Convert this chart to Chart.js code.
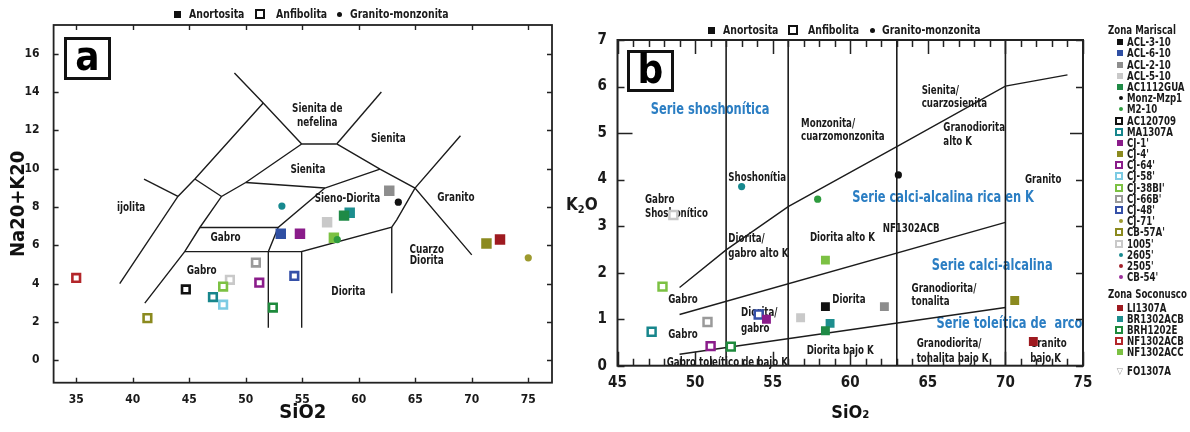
<!DOCTYPE html>
<html>
<head>
<meta charset="utf-8">
<script src="https://cdn.jsdelivr.net/npm/chart.js@4.4.1/dist/chart.umd.min.js"></script>
<style>
  html, body { margin: 0; padding: 0; background: #fff; }
  body { position: relative; width: 1190px; height: 432px; overflow: hidden;
         font-family: "Liberation Sans Narrow", "DejaVu Sans Condensed", sans-serif;
         font-weight: bold; color: #1a1a1a; }
  canvas { position: absolute; top: 0; }
  #chartA { left: 0; }
  #chartB { left: 555px; }
  .keyTop { position: absolute; width: 320px; height: 16px; font-size: 13px; line-height: 16px; white-space: nowrap; }
  .keyTop > span { position: absolute; top: 0; }
  .nar { display: inline-block; transform: scaleX(0.8); transform-origin: 0 50%; }
  .fsq { display: inline-block; width: 7px; height: 7px; background: #111; margin-top: 4.5px; }
  .osq { display: inline-block; box-sizing: border-box; width: 10px; height: 10px; border: 2.5px solid #111; margin-top: 3px; }
  .dot { display: inline-block; width: 5px; height: 5px; border-radius: 50%; background: #111; margin-top: 5.5px; }
  .tag { position: absolute; box-sizing: border-box; border: 3px solid #111; background: #fff;
         display: flex; align-items: center; justify-content: center; color: #000; }
  #k2o { position: absolute; left: 566px; top: 194px; font-size: 17px; line-height: 20px; }
  #k2o sub { font-size: 11px; vertical-align: -3px; line-height: 0; }
  #side { position: absolute; left: 1108px; top: 25px; font-size: 12px; }
  #side .head { height: 11.6px; line-height: 11.6px; white-space: nowrap; font-size: 12px; }
  #side .row { display: flex; align-items: center; white-space: nowrap; }
  #side .sym { width: 19px; display: flex; justify-content: flex-end; padding-right: 4px; box-sizing: border-box; }
</style>
</head>
<body>
<canvas id="chartA" width="580" height="432"></canvas>
<canvas id="chartB" width="635" height="432"></canvas>

<div class="keyTop" style="left:174px;top:6px;">
  <span class="fsq" style="left:0"></span><span style="left:15px"><span class="nar">Anortosita</span></span>
  <span class="osq" style="left:81px"></span><span style="left:102px"><span class="nar">Anfibolita</span></span>
  <span class="dot" style="left:163px"></span><span style="left:176px"><span class="nar">Granito-monzonita</span></span>
</div>
<div class="keyTop" style="left:708px;top:22px;">
  <span class="fsq" style="left:0"></span><span style="left:15px"><span class="nar">Anortosita</span></span>
  <span class="osq" style="left:80px"></span><span style="left:100px"><span class="nar">Anfibolita</span></span>
  <span class="dot" style="left:162px"></span><span style="left:174px"><span class="nar">Granito-monzonita</span></span>
</div>

<div class="tag" style="left:64px;top:37px;width:47px;height:43px;font-size:40px;line-height:40px;"><span style="margin-top:-6px">a</span></div>
<div class="tag" style="left:627px;top:50px;width:47px;height:42px;font-size:40px;line-height:40px;"><span style="margin-top:-4px">b</span></div>

<div id="k2o">K<sub>2</sub>O</div>
<div id="side"></div>

<script>
// ---------------- samples (legend order) ----------------
const sampleNames = ['ACL-3-10', 'ACL-6-10', 'ACL-2-10', 'ACL-5-10', 'AC1112GUA', 'Monz-Mzp1', 'M2-10',
  'AC120709', 'MA1307A', "CJ-1'", "CJ-4'", "CJ-64'", "CJ-58'", "CJ-38BI'", "CJ-66B'", "CJ-48'", "CJ-71'",
  "CB-57A'", "1005'", "2605'", "2505'", "CB-54'",
  'LI1307A', 'BR1302ACB', 'BRH1202E', 'NF1302ACB', 'NF1302ACC', 'FO1307A'];
const mariscalCount = 22;   // the rest belong to Zona Soconusco

// Panel a: SiO2 vs Na2O+K2O
const tasSiO2 = [null, 53.1, 62.7, 57.2, 58.7, 63.5, 58.1, 44.7, 47.1, 54.8, 71.3, 51.2, 48.0, 48.0, 50.9, 54.3, 75.0,
  41.3, 48.6, 53.2, null, null, 72.5, 59.2, 52.4, 35.0, 57.8, null];
const tasAlk = [null, 6.6, 8.85, 7.2, 7.55, 8.25, 6.3, 3.7, 3.3, 6.6, 6.1, 4.05, 2.9, 3.85, 5.1, 4.4, 5.35,
  2.2, 4.2, 8.05, null, null, 6.3, 7.7, 2.75, 4.3, 6.4, null];

// Panel b: SiO2 vs K2O
const kSiO2 = [58.4, null, 62.2, 56.8, 58.4, 63.1, 57.9, null, 47.2, 54.6, 70.6, 51.0, null, 47.9, 50.8, 54.1, null,
  null, 48.6, 53.0, null, null, 71.8, 58.7, 52.3, null, 58.4, null];
const kK2O = [1.27, null, 1.27, 1.03, 0.75, 4.1, 3.58, null, 0.73, 1.0, 1.4, 0.42, null, 1.7, 0.94, 1.1, null,
  null, 3.24, 3.85, null, null, 0.52, 0.91, 0.41, null, 2.27, null];

// tick labels
const tasXTicks = [35, 40, 45, 50, 55, 60, 65, 70, 75];
const tasYTicks = [0, 2, 4, 6, 8, 10, 12, 14, 16];
const kXTicks = [45, 50, 55, 60, 65, 70, 75];
const kYTicks = [0, 1, 2, 3, 4, 5, 6, 7];

// classification boundaries, panel a (SiO2, Na2O+K2O)
const tasFoidLine = [[49.0, 15.0], [51.55, 13.43], [54.95, 11.29]];
const tasIjoliteLine = [[51.55, 13.43], [45.5, 9.46], [44.0, 8.55], [38.85, 4.0]];
const tasIjoliteTop = [[41.0, 9.46], [44.0, 8.55]];
const tasSyeniteLink = [[45.5, 9.46], [47.86, 8.55]];
const tasGabbroLine = [[54.95, 11.29], [50.0, 9.28], [47.86, 8.55], [45.94, 6.93], [44.6, 5.67], [41.07, 2.98]];
const tasFoidTop = [[54.95, 11.29], [58.05, 11.29]];
const tasSyeniteLeft = [[58.05, 11.29], [62.0, 14.0]];
const tasSyeniteRight = [[58.05, 11.29], [61.88, 9.98], [64.98, 8.99], [70.0, 5.5]];
const tasSyenodiorite = [[50.0, 9.28], [57.0, 8.99], [61.88, 9.98]];
const tasGabbroRight = [[57.0, 8.99], [52.87, 6.93], [52.0, 5.67], [52.0, 1.7]];
const tasGabbroTop = [[45.94, 6.93], [52.87, 6.93]];
const tasGabbroBase = [[44.6, 5.67], [54.95, 5.67]];
const tasDioriteLine = [[54.95, 1.7], [54.95, 5.67], [62.92, 6.95], [63.36, 7.33], [64.98, 8.99], [69.0, 11.72]];
const tasQuartzDiorite = [[62.92, 6.95], [62.92, 3.5]];

// classification boundaries, panel b (SiO2, K2O)
const kVerticals = [52, 56, 63, 70];
const kShoshoniteLine = [[49, 1.68], [52, 2.49], [56, 3.42], [63, 4.71], [70, 6.01], [74, 6.25]];
const kHighKLine = [[49, 1.1], [70, 3.08]];
const kLowKLine = [[49, 0.245], [70, 1.25]];

// field names
const tasLabels = [['Sienita de', 56.33, 13.13], ['nefelina', 56.33, 12.38], ['Sienita', 62.62, 11.56],
  ['Sienita', 55.5, 9.94], ['Sieno-Diorita', 59.0, 8.41], ['Granito', 68.6, 8.5], ['ijolita', 39.86, 7.94],
  ['Gabro', 48.22, 6.37], ['Gabro', 46.1, 4.68], ['Cuarzo', 66.02, 5.76], ['Diorita', 66.02, 5.19],
  ['Diorita', 59.08, 3.58]];
const kLabels = [['Monzonita/', 56.83, 5.21], ['cuarzomonzonita', 56.83, 4.91], ['Sienita/', 64.6, 5.92],
  ['cuarzosienita', 64.6, 5.62], ['Granodiorita', 66.0, 5.11], ['alto K', 66.0, 4.81], ['Granito', 71.26, 3.99],
  ['Shoshonítia', 52.14, 4.05], ['Gabro', 46.77, 3.56], ['Shoshonítico', 46.77, 3.27], ['Diorita/', 52.14, 2.72],
  ['gabro alto K', 52.14, 2.40], ['Diorita alto K', 57.4, 2.74], ['NF1302ACB', 62.09, 2.95],
  ['Granodiorita/', 63.95, 1.66], ['tonalita', 63.95, 1.38], ['Gabro', 48.27, 1.41], ['Diorita', 58.84, 1.41],
  ['Diorita/', 52.96, 1.13], ['gabro', 52.96, 0.80], ['Gabro', 48.27, 0.66], ['Granodiorita/', 64.28, 0.47],
  ['tonalita bajo K', 64.28, 0.16], ['Diorita bajo K', 57.19, 0.32], ['Gabro toleítico de bajo K', 48.17, 0.06],
  ['Granito', 71.6, 0.48], ['bajo K', 71.6, 0.15]];
const kSeriesLabels = [['Serie shoshonítica', 47.14, 5.5], ['Serie calci-alcalina rica en K', 60.13, 3.6],
  ['Serie calci-alcalina', 65.25, 2.14], ['Serie toleítica de  arco', 65.56, 0.9]];

// ---------------- styling ----------------
const markerOf = ['sq', 'sq', 'sq', 'sq', 'sq', 'dot', 'dot', 'open', 'open', 'sq', 'sq', 'open', 'open', 'open',
  'open', 'open', 'dot', 'open', 'open', 'dot', 'dot', 'dot', 'sq', 'sq', 'open', 'open', 'sq', 'tri'];
const colorOf = ['#111111', '#2f4fa3', '#8d8d8d', '#c9c9c9', '#1f8a46', '#111111', '#2e9b3e', '#111111',
  '#17868c', '#8a1c8a', '#8b8a1f', '#8a1c8a', '#7ccbe3', '#7cc143', '#9a9a9a', '#3550a8', '#9d9a2e',
  '#8b8a1f', '#c9c9c9', '#17898f', '#a3202a', '#9b2f9b', '#9e1a20', '#1d8e8e', '#1e8a3c', '#b3262a',
  '#7cc143', '#9a9a9a'];
const FONT = '"Liberation Sans Narrow", "DejaVu Sans Condensed", sans-serif';
const INK = '#1a1a1a';
const BLUE = '#2b7ec3';

function sampleDatasets(xs, ys, size) {
  const out = [];
  sampleNames.forEach((name, i) => {
    if (xs[i] == null || ys[i] == null) return;
    const c = colorOf[i], m = markerOf[i];
    const ds = { label: name, data: [{ x: xs[i], y: ys[i] }], order: 1, showLine: false };
    if (m === 'sq') Object.assign(ds, { pointStyle: 'rect', pointRadius: size.sq, backgroundColor: c, borderColor: c, borderWidth: 0 });
    else if (m === 'open') Object.assign(ds, { pointStyle: 'rect', pointRadius: size.open, backgroundColor: '#fff', borderColor: c, borderWidth: size.openW });
    else if (m === 'dot') Object.assign(ds, { pointStyle: 'circle', pointRadius: size.dot, backgroundColor: c, borderColor: c, borderWidth: 0 });
    else Object.assign(ds, { pointStyle: 'triangle', rotation: 180, pointRadius: size.open, backgroundColor: '#fff', borderColor: c, borderWidth: 1.5 });
    out.push(ds);
  });
  return out;
}

function boundary(pts, width) {
  return { data: pts.map(p => ({ x: p[0], y: p[1] })), showLine: true, pointRadius: 0, borderColor: '#1c1c1c',
    borderWidth: width, fill: false, tension: 0, order: 5 };
}

// frame, inward tick marks and field names
const decor = {
  id: 'decor',
  beforeDatasetsDraw(chart, args, o) {
    const { ctx, scales: { x, y } } = chart;
    ctx.save();
    ctx.textBaseline = 'middle';
    for (const g of o.texts) {
      ctx.font = `bold ${g.size}px ${FONT}`;
      ctx.fillStyle = g.color;
      ctx.textAlign = g.align;
      for (const [t, vx, vy] of g.items) {
        ctx.save();
        ctx.translate(x.getPixelForValue(vx), y.getPixelForValue(vy));
        ctx.scale(g.squeeze, 1);
        ctx.fillText(t, 0, 0);
        ctx.restore();
      }
    }
    ctx.restore();
  },
  afterDraw(chart, args, o) {
    const { ctx, chartArea: a, scales: { x, y } } = chart;
    ctx.save();
    ctx.strokeStyle = '#222';
    ctx.lineWidth = o.tickWidth;
    ctx.beginPath();
    for (const v of o.xTicks) {
      const px = Math.round(x.getPixelForValue(v)) + 0.5, len = o.xLen(v);
      ctx.moveTo(px, a.bottom); ctx.lineTo(px, a.bottom - len);
      ctx.moveTo(px, a.top); ctx.lineTo(px, a.top + len);
    }
    for (const v of o.yTicks) {
      const py = Math.round(y.getPixelForValue(v)) + 0.5;
      ctx.moveTo(a.left, py); ctx.lineTo(a.left + o.yLen(v, 'l'), py);
      ctx.moveTo(a.right, py); ctx.lineTo(a.right - o.yLen(v, 'r'), py);
    }
    ctx.stroke();
    ctx.lineWidth = o.frameWidth;
    ctx.strokeRect(a.left, a.top, a.right - a.left, a.bottom - a.top);
    ctx.restore();
  }
};

function axes(c) {
  const tickFont = { family: FONT, weight: 'bold', size: c.tickSize };
  return {
    x: {
      type: 'linear', min: c.xMin, max: c.xMax,
      afterBuildTicks: s => { s.ticks = c.xTicks.map(v => ({ value: v })); },
      afterFit: s => { s.height = c.xHeight; },
      grid: { display: false, drawTicks: false }, border: { display: false },
      ticks: { font: tickFont, color: INK, padding: c.xPad, maxRotation: 0, autoSkip: false },
      title: { display: true, text: c.xTitle, color: '#111', font: { family: FONT, weight: 'bold', size: c.xTitleSize },
        padding: { top: 0, bottom: c.xTitlePad } }
    },
    y: {
      type: 'linear', min: c.yMin, max: c.yMax,
      afterBuildTicks: s => { s.ticks = c.yTicks.map(v => ({ value: v })); },
      afterFit: s => { s.width = c.yWidth; },
      grid: { display: false, drawTicks: false }, border: { display: false },
      ticks: { font: tickFont, color: INK, padding: c.yPad, autoSkip: false },
      title: c.yTitle ? { display: true, text: c.yTitle, color: '#111', font: { family: FONT, weight: 'bold', size: 20 },
        padding: { top: c.yTitlePad, bottom: 0 } } : { display: false }
    }
  };
}

const common = {
  responsive: false, animation: false, devicePixelRatio: 1, events: [],
  plugins: { legend: { display: false }, tooltip: { enabled: false } }
};

// ---------------- panel a ----------------
new Chart(document.getElementById('chartA'), {
  type: 'scatter',
  data: {
    datasets: [
      ...sampleDatasets(tasSiO2, tasAlk, { sq: 7.4, open: 5.4, openW: 2.6, dot: 3.6 }),
      ...[tasFoidLine, tasIjoliteLine, tasIjoliteTop, tasSyeniteLink, tasGabbroLine, tasFoidTop, tasSyeniteLeft,
        tasSyeniteRight, tasSyenodiorite, tasGabbroRight, tasGabbroTop, tasGabbroBase, tasDioriteLine,
        tasQuartzDiorite].map(l => boundary(l, 1.4))
    ]
  },
  options: {
    ...common,
    layout: { padding: { left: 0, top: 25, right: 28, bottom: 0 } },
    scales: axes({ xMin: 33, xMax: 77.1, yMin: -1.17, yMax: 17.5, xTicks: tasXTicks, yTicks: tasYTicks,
      tickSize: 12, xPad: 10, yPad: 14, xHeight: 49.3, yWidth: 53.6,
      xTitle: 'SiO2', xTitleSize: 20, xTitlePad: 7, yTitle: 'Na20+K20', yTitlePad: 6.5 }),
    plugins: {
      ...common.plugins,
      decor: {
        texts: [{ items: tasLabels, size: 12, color: INK, align: 'center', squeeze: 0.82 }],
        xTicks: tasXTicks, yTicks: tasYTicks, xLen: () => 5, yLen: () => 5, tickWidth: 1.4, frameWidth: 1.8
      }
    }
  },
  plugins: [decor]
});

// ---------------- panel b ----------------
new Chart(document.getElementById('chartB'), {
  type: 'scatter',
  data: {
    datasets: [
      ...sampleDatasets(kSiO2, kK2O, { sq: 6.3, open: 5.6, openW: 2.5, dot: 3.6 }),
      ...kVerticals.map(v => boundary([[v, 0], [v, 7]], 1.6)),
      boundary(kShoshoniteLine, 1.4), boundary(kHighKLine, 1.4), boundary(kLowKLine, 1.4)
    ]
  },
  options: {
    ...common,
    layout: { padding: { left: 0, top: 40, right: 107, bottom: 0 } },
    scales: axes({ xMin: 45, xMax: 75, yMin: 0, yMax: 7, xTicks: kXTicks, yTicks: kYTicks,
      tickSize: 15, xPad: 8, yPad: 10.5, xHeight: 66.3, yWidth: 62.5,
      xTitle: 'SiO₂', xTitleSize: 18, xTitlePad: 8 }),
    plugins: {
      ...common.plugins,
      decor: {
        texts: [{ items: kLabels, size: 12.5, color: INK, align: 'left', squeeze: 0.77 },
                { items: kSeriesLabels, size: 16.5, color: BLUE, align: 'left', squeeze: 0.77 }],
        xTicks: Array.from({ length: 31 }, (_, i) => 45 + i),
        yTicks: kYTicks,
        xLen: v => (v % 5 === 0 ? 14 : 7),
        yLen: (v, side) => (v === 5 ? (side === 'l' ? 15 : 13) : 7),
        tickWidth: 1.5, frameWidth: 2
      }
    }
  },
  plugins: [decor]
});

// ---------------- sample key ----------------
(function buildKey() {
  const side = document.getElementById('side');
  const symbol = i => {
    const c = colorOf[i], m = markerOf[i];
    if (m === 'sq') return `<span style="width:6px;height:6px;background:${c}"></span>`;
    if (m === 'open') return `<span style="box-sizing:border-box;width:8px;height:8px;border:2px solid ${c};background:#fff"></span>`;
    if (m === 'dot') return `<span style="width:4px;height:4px;border-radius:50%;background:${c}"></span>`;
    return `<span style="color:${c};font-size:9px;line-height:9px">&#9661;</span>`;
  };
  const group = (title, from, to, step, headGap) => {
    let html = `<div class="head" style="margin-top:${headGap}px;margin-bottom:${step === 11.2 ? 0 : 2.5}px"><span class="nar">${title}</span></div>`;
    for (let i = from; i < to; i++) {
      const extra = sampleNames[i] === 'FO1307A' ? 'margin-top:8px;' : '';
      html += `<div class="row" style="height:${step}px;${extra}"><div class="sym">${symbol(i)}</div><span class="nar">${sampleNames[i]}</span></div>`;
    }
    return html;
  };
  side.innerHTML = group('Zona Mariscal', 0, mariscalCount, 11.2, 0) +
                   group('Zona Soconusco', mariscalCount, sampleNames.length, 11, 6);
})();
</script>
</body>
</html>
